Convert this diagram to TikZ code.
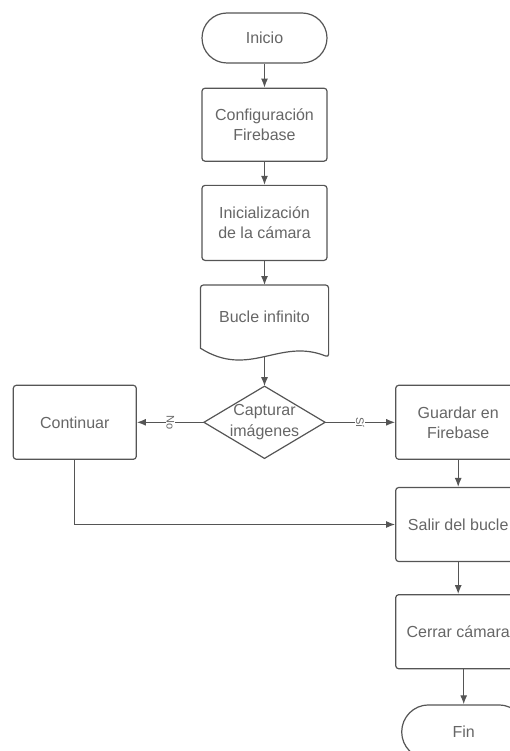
\documentclass[tikz,border=0pt]{standalone}
\usepackage{fontspec}
\setmainfont{Liberation Sans}
\usetikzlibrary{arrows.meta}
\usetikzlibrary{positioning}
\usepackage{xcolor}
\definecolor{linegray}{HTML}{555555}
\definecolor{textgray}{HTML}{666666}

\begin{document}
\begin{tikzpicture}[x=1pt,y=-1pt]
		\tikzstyle{block} = [rectangle, draw=linegray, line width=1.2pt, fill=white, text=textgray,
		align=center, rounded corners=3pt, minimum width=125pt, minimum height=74pt, font=\fontsize{16}{20}\selectfont]
		\tikzstyle{terminal} = [block, rounded corners=25pt, minimum height=50pt]
		\tikzstyle{noblock} = [block, draw=none, fill=none]
		\tikzstyle{line} = [draw=linegray, line width=1.2pt]
		\tikzstyle{arrow} = [line, -{Latex[length=9pt, width=7pt]}]
		\tikzstyle{answer} = [fill=white, text=textgray, rotate=-90, inner sep=1pt, font=\fontsize{11}{13}\selectfont]

		\useasboundingbox (0,0) rectangle (510,751);
		\clip (0,0) rectangle (510,751);

		% Start
		\node [terminal] (b1) at (264.5,38) {Inicio};

		% Setup
		\node [block, minimum height=73pt, below=24pt of b1] (b2) {Configuración\\Firebase};
		\node [block, minimum height=75pt, below=23pt of b2] (b3) {Inicialización\\de la cámara};

		% Loop
		\node [noblock, minimum width=127pt, minimum height=62pt, below=24pt of b3] (b4) {Bucle infinito};
		\draw [line] ([yshift=-9pt]b4.south east) .. controls ([shift={(15,-11)}]b4.south) and ([shift={(-15,31)}]b4.south) .. (b4.south west) [rounded corners=3pt] -- (b4.north west) -- (b4.north east) -- cycle;
		\coordinate (b4w) at ([yshift=-8.6pt]b4.south);

		% Decision
		\node [noblock, minimum width=120pt, minimum height=71pt, inner sep=0pt, font=\fontsize{16}{21}\selectfont, below=38pt of b4] (b5) {Capturar\\imágenes};
		\draw [line] (b5.north) -- (b5.east) -- (b5.south) -- (b5.west) -- cycle;

		\node [block, minimum width=123pt, left=67pt of b5] (b6) {Continuar};
		\node [block, right=70pt of b5] (b7) {Guardar en\\Firebase};

		% End of loop
		\node [block, below=27pt of b7] (b8) {Salir del bucle};
		\node [block, below=32pt of b8] (b9) {Cerrar cámara};
		\node [terminal, minimum width=124pt, minimum height=54pt, rounded corners=27pt, below=35pt of b9, xshift=5.5pt] (b10) {Fin};

		% arrows
		\draw [arrow] (b1) -- (b2);
		\draw [arrow] (b2) -- (b3);
		\draw [arrow] (b3) -- (b4);
		\draw [arrow] (b4w) -- (b5.north);
		\draw [arrow] (b5.west) -- node [answer] {No} (b6);
		\draw [arrow] (b5.east) -- node [answer] {Sí} (b7);
		\draw [arrow] (b7) -- (b8);
		\draw [arrow] (b6.south) |- (b8.west);
		\draw [arrow] (b8) -- (b9);
		\draw [arrow] (b10.north |- b9.south) -- (b10.north);

	\end{tikzpicture}
\end{document}
